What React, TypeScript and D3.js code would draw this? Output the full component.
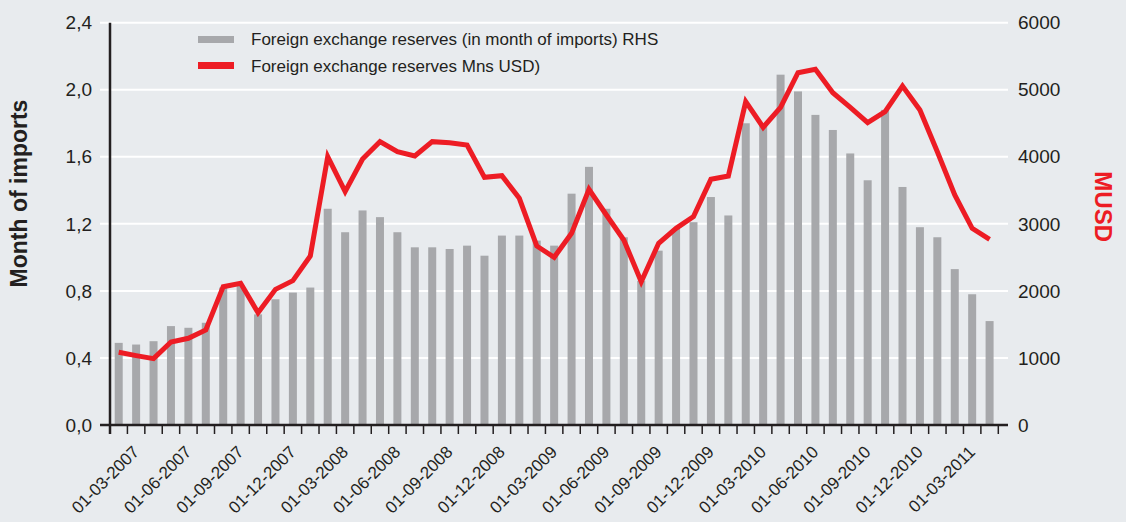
import React from "react";
import * as d3 from "d3";

const categories: string[] = [
  "01-02-2007","01-03-2007","01-04-2007","01-05-2007","01-06-2007","01-07-2007","01-08-2007","01-09-2007","01-10-2007","01-11-2007","01-12-2007",
  "01-01-2008","01-02-2008","01-03-2008","01-04-2008","01-05-2008","01-06-2008","01-07-2008","01-08-2008","01-09-2008","01-10-2008","01-11-2008","01-12-2008",
  "01-01-2009","01-02-2009","01-03-2009","01-04-2009","01-05-2009","01-06-2009","01-07-2009","01-08-2009","01-09-2009","01-10-2009","01-11-2009","01-12-2009",
  "01-01-2010","01-02-2010","01-03-2010","01-04-2010","01-05-2010","01-06-2010","01-07-2010","01-08-2010","01-09-2010","01-10-2010","01-11-2010","01-12-2010",
  "01-01-2011","01-02-2011","01-03-2011","01-04-2011",
];

const monthsOfImports: number[] = [
  0.49, 0.48, 0.50, 0.59, 0.58, 0.61, 0.82, 0.83, 0.66, 0.75, 0.79,
  0.82, 1.29, 1.15, 1.28, 1.24, 1.15, 1.06, 1.06, 1.05, 1.07, 1.01, 1.13,
  1.13, 1.10, 1.07, 1.38, 1.54, 1.29, 1.12, 0.86, 1.04, 1.17, 1.21, 1.36,
  1.25, 1.80, 1.79, 2.09, 1.99, 1.85, 1.76, 1.62, 1.46, 1.88, 1.42, 1.18,
  1.12, 0.93, 0.78, 0.62,
];

const reservesMUSD: number[] = [
  1085, 1035, 990, 1238, 1293, 1417, 2063, 2113, 1675, 2023, 2153,
  2520, 4002, 3480, 3967, 4226, 4076, 4012, 4226, 4211, 4176, 3694, 3719,
  3381, 2670, 2501, 2859, 3515, 3132, 2759, 2137, 2710, 2933, 3107, 3664,
  3713, 4822, 4440, 4738, 5254, 5304, 4956, 4738, 4509, 4673, 5056, 4698,
  4076, 3430, 2933, 2769,
];

const leftTicks: number[] = [0, 0.4, 0.8, 1.2, 1.6, 2.0, 2.4];
const rightTicks: number[] = [0, 1000, 2000, 3000, 4000, 5000, 6000];
const labelMonths: string[] = ["03", "06", "09", "12"];

const legendLabels: string[] = [
  "Foreign exchange reserves (in month of imports) RHS",
  "Foreign exchange reserves Mns USD)",
];

const W = 1126;
const H = 522;
const FONT = "'Liberation Sans', Arial, Helvetica, sans-serif";
const BG = "#e8ebee";
const BAR = "#a7a8ab";
const RED = "#ed1c24";
const TEXT = "#231f20";

export default function App() {
  const x = d3
    .scaleBand<number>()
    .domain(categories.map((_, i) => i))
    .range([110, 998.3])
    .padding(0);
  const bw = x.bandwidth();
  const barW = 8;
  const yL = d3.scaleLinear().domain([0, 2.4]).range([425, 22.7]);
  const yR = d3.scaleLinear().domain([0, 6000]).range([425, 22.7]);
  const cx = (i: number) => (x(i) as number) + bw / 2;

  const line = d3
    .line<number>()
    .x((_, i) => cx(i))
    .y((d) => yR(d));

  const fmtL = (v: number) => v.toFixed(1).replace(".", ",");

  return (
    <svg
      width={W}
      height={H}
      style={{ position: "fixed", left: 0, top: 0, display: "block" }}
      fontFamily={FONT}
    >
      <rect x={0} y={0} width={W} height={H} fill={BG} />

      {/* gridlines */}
      {leftTicks.slice(1).map((t) => (
        <line key={t} x1={100} x2={1008} y1={yL(t)} y2={yL(t)} stroke="#ffffff" strokeWidth={2} />
      ))}

      {/* bars */}
      {monthsOfImports.map((v, i) => (
        <rect key={i} x={cx(i) - barW / 2} y={yL(v)} width={barW} height={yL(0) - yL(v)} fill={BAR} />
      ))}

      {/* red line */}
      <path
        d={line(reservesMUSD) || ""}
        fill="none"
        stroke={RED}
        strokeWidth={5}
        strokeLinejoin="miter"
        strokeMiterlimit={6}
      />

      {/* axes */}
      <line x1={100} x2={1008} y1={425} y2={425} stroke={TEXT} strokeWidth={2.5} />
      <line x1={110} x2={110} y1={22.7} y2={434} stroke={TEXT} strokeWidth={2.5} />
      {categories.map((_, i) => (
        <line
          key={i}
          x1={(x(i) as number) + bw}
          x2={(x(i) as number) + bw}
          y1={425}
          y2={434}
          stroke={TEXT}
          strokeWidth={1.5}
        />
      ))}

      {/* left tick labels */}
      {leftTicks.map((t) => (
        <text key={t} x={92} y={yL(t)} dy="0.35em" textAnchor="end" fontSize={19} fill={TEXT}>
          {fmtL(t)}
        </text>
      ))}
      {/* right tick labels */}
      {rightTicks.map((t) => (
        <text key={t} x={1018} y={yR(t)} dy="0.35em" textAnchor="start" fontSize={19} fill={TEXT}>
          {t}
        </text>
      ))}

      {/* x labels */}
      {categories.map((c, i) =>
        labelMonths.includes(c.slice(3, 5)) ? (
          <text
            key={c}
            transform={`translate(${cx(i) + 4},${453}) rotate(-45)`}
            textAnchor="end"
            fontSize={17}
            fill={TEXT}
          >
            {c}
          </text>
        ) : null
      )}

      {/* axis titles */}
      <text
        transform={`translate(27,193.5) rotate(-90)`}
        textAnchor="middle"
        fontSize={23}
        fontWeight="bold"
        fill={TEXT}
      >
        Month of imports
      </text>
      <text
        transform={`translate(1095,206.7) rotate(90)`}
        textAnchor="middle"
        fontSize={24}
        fontWeight="bold"
        fill={RED}
      >
        MUSD
      </text>

      {/* legend */}
      <rect x={198} y={36} width={36} height={7} fill={BAR} />
      <rect x={198} y={62} width={36} height={7} fill={RED} />
      <text x={251} y={45} fontSize={17} fill={TEXT}>
        {legendLabels[0]}
      </text>
      <text x={251} y={71.7} fontSize={17} fill={TEXT}>
        {legendLabels[1]}
      </text>
    </svg>
  );
}
